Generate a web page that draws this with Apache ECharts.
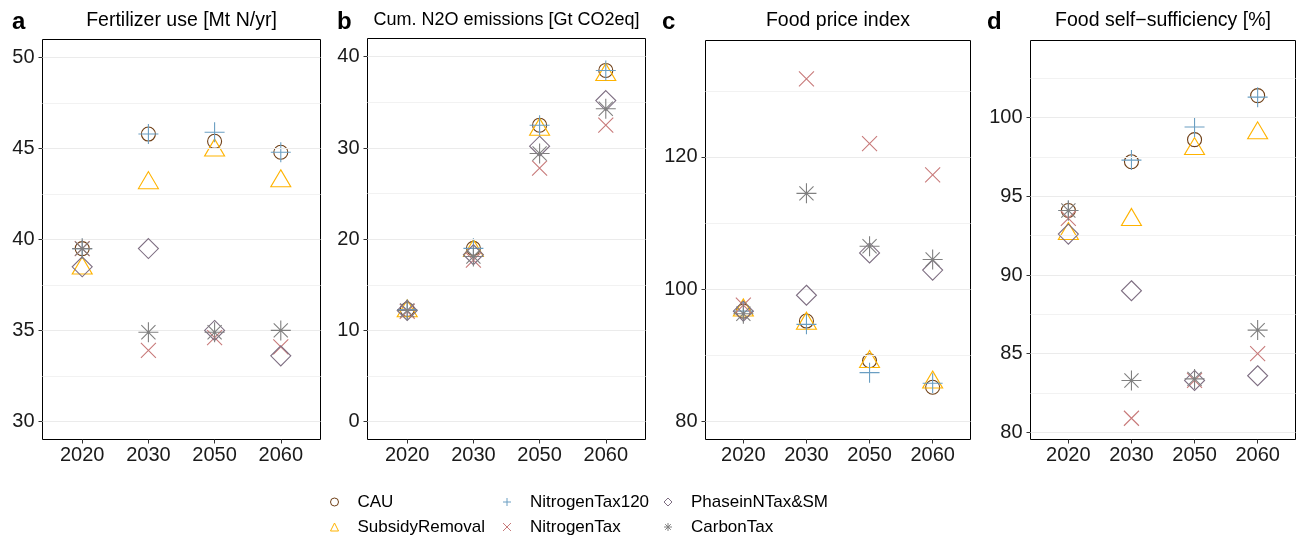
<!DOCTYPE html>
<html>
<head>
<meta charset="utf-8">
<script src="https://cdn.jsdelivr.net/npm/echarts@6/dist/echarts.min.js"></script>
<style>
  html, body { margin: 0; padding: 0; background: #fff; }
  #chart { width: 1296px; height: 538px; }
</style>
</head>
<body>
<div id="chart"></div>
<script>
// categories
const years = ["2020", "2030", "2050", "2060"];
const scenarios = ["CAU", "SubsidyRemoval", "NitrogenTax120", "NitrogenTax", "PhaseinNTax&SM", "CarbonTax"];

// values, one row per scenario (same order as scenarios), one column per year
const fertilizerUse = [
  [39.5, 45.8, 45.4, 44.8],
  [38.4, 43.1, 44.9, 43.2],
  [39.5, 45.8, 45.9, 44.8],
  [39.5, 33.9, 34.6, 34.1],
  [38.5, 39.5, 35.0, 33.6],
  [39.5, 34.9, 34.9, 35.0]
];
const n2oEmissions = [
  [12.3, 19.0, 32.5, 38.5],
  [12.1, 18.7, 32.0, 38.0],
  [12.3, 19.0, 32.5, 38.5],
  [12.1, 17.7, 27.8, 32.5],
  [12.2, 18.3, 30.2, 35.2],
  [12.2, 18.1, 29.4, 34.3]
];
const foodPrice = [
  [96.7, 95.2, 89.2, 85.2],
  [96.8, 94.8, 89.0, 85.9],
  [96.7, 94.7, 87.4, 85.8],
  [97.6, 131.8, 122.0, 117.3],
  [96.7, 99.1, 105.5, 102.9],
  [96.3, 114.5, 106.5, 104.5]
];
const selfSufficiency = [
  [94.1, 97.2, 98.6, 101.4],
  [92.6, 93.5, 98.0, 99.0],
  [94.1, 97.3, 99.4, 101.3],
  [93.6, 80.9, 83.3, 85.0],
  [92.6, 89.0, 83.3, 83.6],
  [94.1, 83.3, 83.4, 86.5]
];

// tick labels
const yTicksA = [30, 35, 40, 45, 50];
const yMinorA = [32.5, 37.5, 42.5, 47.5];
const yTicksB = [0, 10, 20, 30, 40];
const yMinorB = [5, 15, 25, 35];
const yTicksC = [80, 100, 120];
const yMinorC = [90, 110, 130];
const yTicksD = [80, 85, 90, 95, 100];
const yMinorD = [82.5, 87.5, 92.5, 97.5, 102.5];

// marker styles per scenario
const markers = [
  { symbol: "circle", size: 14, color: "#6f3f16", offset: [0, 0] },
  { symbol: "triangle", size: [20, 17], color: "#ffb300", offset: [0, -3] },
  { symbol: "path://M10,0L10,20M0,10L20,10", size: 20, color: "#6a9ec2", offset: [0, 0] },
  { symbol: "path://M0,0L15,15M0,15L15,0", size: 15, color: "#c87a7a", offset: [0, 0] },
  { symbol: "diamond", size: 20, color: "#7e6e82", offset: [0, 0] },
  { symbol: "path://M10,0L10,20M0,10L20,10M2.93,2.93L17.07,17.07M2.93,17.07L17.07,2.93", size: 20, color: "#808080", offset: [0, 0] }
];

const panels = [
  { letter: "a", title: "Fertilizer use [Mt N/yr]", titleSize: 19.5, data: fertilizerUse, ticks: yTicksA, minor: yMinorA, min: 29, max: 51,
    grid: { left: 42.5, top: 39.5, width: 278, height: 400 } },
  { letter: "b", title: "Cum. N2O emissions [Gt CO2eq]", titleSize: 18, data: n2oEmissions, ticks: yTicksB, minor: yMinorB, min: -1.95, max: 42,
    grid: { left: 367.5, top: 38.5, width: 278, height: 401 } },
  { letter: "c", title: "Food price index", titleSize: 19.5, data: foodPrice, ticks: yTicksC, minor: yMinorC, min: 77.3, max: 137.6,
    grid: { left: 705.5, top: 40.5, width: 265, height: 399 } },
  { letter: "d", title: "Food self\u2212sufficiency [%]", titleSize: 19.5, data: selfSufficiency, ticks: yTicksD, minor: yMinorD, min: 79.55, max: 104.9,
    grid: { left: 1030.5, top: 40.5, width: 265, height: 399 } }
];

const labelColor = "#1a1a1a";

let grids = [], xAxes = [], yAxes = [], series = [], titles = [];

panels.forEach((p, i) => {
  grids.push(Object.assign({ show: true, borderColor: "#000", borderWidth: 1, backgroundColor: "#fff" }, p.grid));

  xAxes.push({
    gridIndex: i,
    type: "value",
    min: -0.6,
    max: 3.6,
    axisLine: { show: false, onZero: false },
    splitLine: { show: false },
    axisTick: { show: true, customValues: [0, 1, 2, 3], length: 4, lineStyle: { color: "#333" } },
    axisLabel: {
      customValues: [0, 1, 2, 3],
      formatter: v => years[Math.round(v)],
      fontSize: 20,
      color: labelColor,
      margin: 6,
      fontFamily: "Liberation Sans, Arial, sans-serif"
    }
  });

  yAxes.push({
    gridIndex: i,
    type: "value",
    min: p.min,
    max: p.max,
    axisLine: { show: false, onZero: false },
    splitLine: { show: false },
    axisTick: { show: true, customValues: p.ticks, length: 4, lineStyle: { color: "#333" } },
    axisLabel: {
      customValues: p.ticks,
      fontSize: 20,
      color: labelColor,
      margin: 8,
      fontFamily: "Liberation Sans, Arial, sans-serif"
    }
  });

  // gridlines (major + minor) drawn under the points
  series.push({
    type: "scatter",
    xAxisIndex: i,
    yAxisIndex: i,
    data: [],
    silent: true,
    z: 1,
    markLine: {
      silent: true,
      symbol: "none",
      label: { show: false },
      animation: false,
      data: p.ticks.map(v => ({ yAxis: v, lineStyle: { color: "#ebebeb", width: 1, type: "solid" } }))
        .concat(p.minor.map(v => ({ yAxis: v, lineStyle: { color: "#f2f2f2", width: 1, type: "solid" } })))
    }
  });

  scenarios.forEach((name, k) => {
    const m = markers[k];
    series.push({
      name: name,
      type: "scatter",
      xAxisIndex: i,
      yAxisIndex: i,
      z: 2 + k,
      symbol: m.symbol,
      symbolSize: m.size,
      symbolOffset: m.offset,
      itemStyle: { color: "transparent", borderColor: m.color, borderWidth: 1.1, opacity: 1 },
      emphasis: { disabled: true },
      data: p.data[k].map((v, j) => [j, v])
    });
  });

  const cx = p.grid.left + p.grid.width / 2;
  titles.push({
    text: p.title,
    left: cx,
    top: 11,
    textAlign: "center",
    padding: 0,
    textStyle: { fontSize: p.titleSize, fontWeight: "normal", color: "#000", fontFamily: "Liberation Sans, Arial, sans-serif" }
  });
});

const letterX = [12, 337, 662, 987];
panels.forEach((p, i) => {
  titles.push({
    text: p.letter,
    left: letterX[i],
    top: 10,
    padding: 0,
    textStyle: { fontSize: 24, fontWeight: "bold", color: "#000", fontFamily: "Liberation Sans, Arial, sans-serif" }
  });
});

const legendBase = {
  orient: "vertical",
  top: 492,
  height: 46,
  padding: 0,
  itemWidth: 8,
  itemHeight: 8,
  itemGap: 5,
  selectedMode: false,
  itemStyle: { borderWidth: 1 },
  textStyle: { fontSize: 17, color: "#000", lineHeight: 20, padding: [0, 0, 0, 14], fontFamily: "Liberation Sans, Arial, sans-serif" }
};

const legends = [
  Object.assign({}, legendBase, { left: 330, data: ["CAU", "SubsidyRemoval"] }),
  Object.assign({}, legendBase, { left: 502.5, data: ["NitrogenTax120", "NitrogenTax"] }),
  Object.assign({}, legendBase, { left: 663.5, data: ["PhaseinNTax&SM", "CarbonTax"] })
];

let chart = echarts.init(document.getElementById("chart"));
chart.setOption({
  animation: false,
  backgroundColor: "#fff",
  title: titles,
  legend: legends,
  grid: grids,
  xAxis: xAxes,
  yAxis: yAxes,
  series: series
});
</script>
</body>
</html>
